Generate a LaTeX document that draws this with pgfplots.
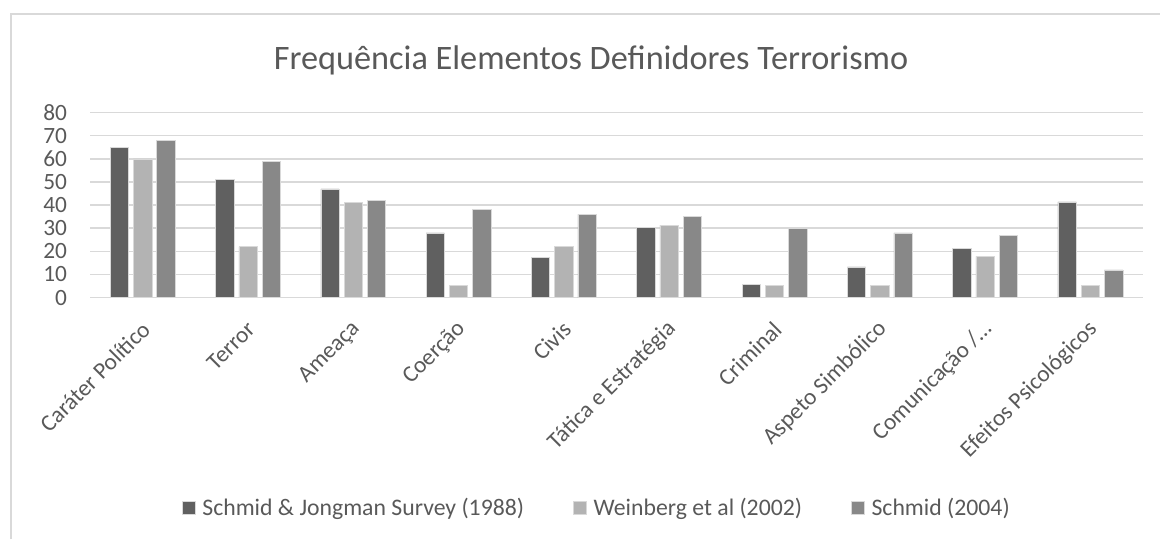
\documentclass[border=0pt]{standalone}
\usepackage{fontspec}
\setmainfont{Carlito}
\usepackage{pgfplots}
\pgfplotsset{compat=1.18}

\definecolor{txt}{HTML}{595959}
\definecolor{gridc}{HTML}{D9D9D9}
\definecolor{sjdark}{HTML}{606060}
\definecolor{wblight}{HTML}{B3B3B3}
\definecolor{scmid}{HTML}{888888}

\begin{document}
\begin{tikzpicture}
% picture frame, 1 px = 0.75pt
\useasboundingbox (0,0) rectangle (870pt,404.25pt);
\draw[gridc, line width=1.1pt] (8.25pt,0pt) -- (8.25pt,393.75pt) -- (870pt,393.75pt);

\node[anchor=base, text=txt, font=\fontsize{25.7}{31}\selectfont] at (443.25pt,351.75pt)
  {Frequência Elementos Definidores Terrorismo};

\begin{axis}[
    at={(67.5pt,181.1pt)}, anchor=south west,
    scale only axis,
    width=789.75pt, height=138.75pt,
    ybar,
    bar width=0.174,
    xmin=-0.5, xmax=9.5,
    ymin=0, ymax=80,
    ytick={0,10,...,80},
    xtick={0,...,9},
    xticklabels={Caráter Político,Terror,Ameaça,Coerção,Civis,Tática e Estratégia,Criminal,Aspeto Simbólico,Comunicação /…,Efeitos Psicológicos},
    major tick length=0pt,
    axis line style={draw=none},
    ymajorgrids=true,
    grid style={gridc, line width=1.1pt},
    /pgf/number format/assume math mode=true,
    tick label style={text=txt, font=\fontsize{17.5}{21}\selectfont},
    yticklabel style={inner sep=0pt, xshift=-17pt},
    xticklabel style={xshift=2.5pt, yshift=-21pt, rotate=45, anchor=east, inner sep=0pt},
    legend style={at={(0.4805,-1.137)}, anchor=center, draw=none, fill=none,
        legend columns=3, text=txt, font=\fontsize{17.8}{21}\selectfont,
        nodes={inner sep=0pt},
        /tikz/every odd column/.append style={column sep=5pt},
        /tikz/every even column/.append style={column sep=37pt}},
    legend image code/.code={\fill[#1] (0pt,-4.9pt) rectangle (9.75pt,4.9pt);},
]
\addplot[fill=sjdark, draw=gridc, line width=0.4pt, bar shift=-0.221] coordinates {
    (0,65) (1,51) (2,47) (3,28) (4,17.3) (5,30.4) (6,5.8) (7,13.3) (8,21.3) (9,41.4)
};
\addlegendentry{Schmid \& Jongman Survey (1988)}

\addplot[fill=wblight, draw=gridc, line width=0.4pt, bar shift=0] coordinates {
    (0,60) (1,22) (2,41) (3,5.3) (4,22) (5,31.3) (6,5.3) (7,5.3) (8,17.8) (9,5.3)
};
\addlegendentry{Weinberg et al (2002)}

\addplot[fill=scmid, draw=gridc, line width=0.4pt, bar shift=0.221] coordinates {
    (0,68) (1,59) (2,42) (3,38) (4,36) (5,35) (6,30) (7,28) (8,27) (9,12)
};
\addlegendentry{Schmid (2004)}
\end{axis}
\end{tikzpicture}
\end{document}
